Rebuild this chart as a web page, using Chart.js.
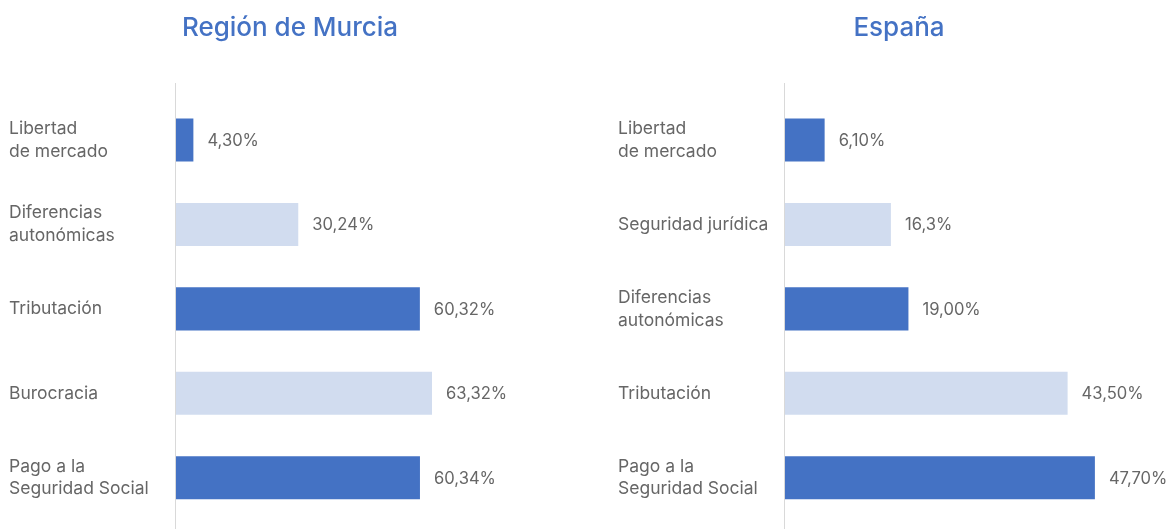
<!DOCTYPE html>
<html>
<head>
<meta charset="utf-8">
<script src="https://cdn.jsdelivr.net/npm/chart.js@4.4.1/dist/chart.umd.min.js"></script>
<style>
  html, body { margin: 0; padding: 0; background: #ffffff; overflow: hidden; }
  body { width: 1170px; height: 529px; position: relative; }
  .box { position: absolute; top: 0; width: 580px; height: 529px; }
  #boxL { left: 0; }
  #boxR { left: 609px; }
</style>
</head>
<body>
<div class="box" id="boxL"><canvas id="chartL" width="580" height="529"></canvas></div>
<div class="box" id="boxR"><canvas id="chartR" width="580" height="529"></canvas></div>
<script>
// ---- Data ----
const titleMurcia = "Región de Murcia";
const categoriesMurcia = [["Libertad", "de mercado"], ["Diferencias", "autonómicas"], "Tributación", "Burocracia", ["Pago a la", "Seguridad Social"]];
const valuesMurcia = [4.30, 30.24, 60.32, 63.32, 60.34];
const valueLabelsMurcia = ["4,30%", "30,24%", "60,32%", "63,32%", "60,34%"];

const titleEspana = "España";
const categoriesEspana = [["Libertad", "de mercado"], "Seguridad jurídica", ["Diferencias", "autonómicas"], "Tributación", ["Pago a la", "Seguridad Social"]];
const valuesEspana = [6.10, 16.3, 19.00, 43.50, 47.70];
const valueLabelsEspana = ["6,10%", "16,3%", "19,00%", "43,50%", "47,70%"];

// ---- Styles ----
const DARK = "#4472C4";
const LIGHT = "#D1DCEF";
const TEXT = "#666666";
const FONT = "Inter, 'Noto Sans', sans-serif";
const barColors = [DARK, LIGHT, DARK, LIGHT, DARK];

const valueLabelPlugin = {
  id: "valueLabels",
  afterDatasetsDraw(chart, args, opts) {
    const ctx = chart.ctx;
    const meta = chart.getDatasetMeta(0);
    ctx.save();
    ctx.font = "400 16.6px " + FONT;
    ctx.fillStyle = TEXT;
    ctx.textAlign = "left";
    ctx.textBaseline = "middle";
    meta.data.forEach((bar, i) => {
      ctx.fillText(opts.labels[i], bar.x + 14, bar.y + 1);
    });
    ctx.restore();
  }
};

const axisLinePlugin = {
  id: "axisLine",
  beforeDatasetsDraw(chart) {
    const ctx = chart.ctx;
    const x = Math.round(chart.chartArea.left) - 0.5;
    ctx.save();
    ctx.strokeStyle = "#d9d9d9";
    ctx.lineWidth = 1;
    ctx.beginPath();
    ctx.moveTo(x, 83);
    ctx.lineTo(x, chart.height);
    ctx.stroke();
    ctx.restore();
  }
};

function makeChart(id, title, cats, vals, valLabels, xMax) {
  return new Chart(document.getElementById(id), {
    type: "bar",
    data: {
      labels: cats,
      datasets: [{
        data: vals,
        backgroundColor: barColors,
        borderWidth: 0,
        barPercentage: 0.51,
        categoryPercentage: 1.0
      }]
    },
    plugins: [axisLinePlugin, valueLabelPlugin],
    options: {
      indexAxis: "y",
      responsive: false,
      animation: false,
      devicePixelRatio: 1,
      layout: { padding: { left: 9, right: 9, top: 0, bottom: 9 } },
      plugins: {
        legend: { display: false },
        tooltip: { enabled: false },
        title: {
          display: true,
          text: title,
          color: DARK,
          font: { family: FONT, size: 26, weight: "500", lineHeight: 1.2 },
          padding: { top: 12.4, bottom: 54.2 }
        },
        valueLabels: { labels: valLabels }
      },
      scales: {
        x: { display: false, min: 0, max: xMax },
        y: {
          grid: { display: false, drawTicks: false },
          border: { display: false },
          ticks: {
            crossAlign: "far",
            color: TEXT,
            padding: 0,
            font: { family: FONT, size: 17.5, lineHeight: 1.3 }
          },
          afterFit(scale) {
            scale.width = 167;
            scale.paddingTop = 0;
            scale.paddingBottom = 0;
          }
        }
      }
    }
  });
}

makeChart("chartL", titleMurcia, categoriesMurcia, valuesMurcia, valueLabelsMurcia, 97.7);
makeChart("chartR", titleEspana, categoriesEspana, valuesEspana, valueLabelsEspana, 60.8);
</script>
</body>
</html>
